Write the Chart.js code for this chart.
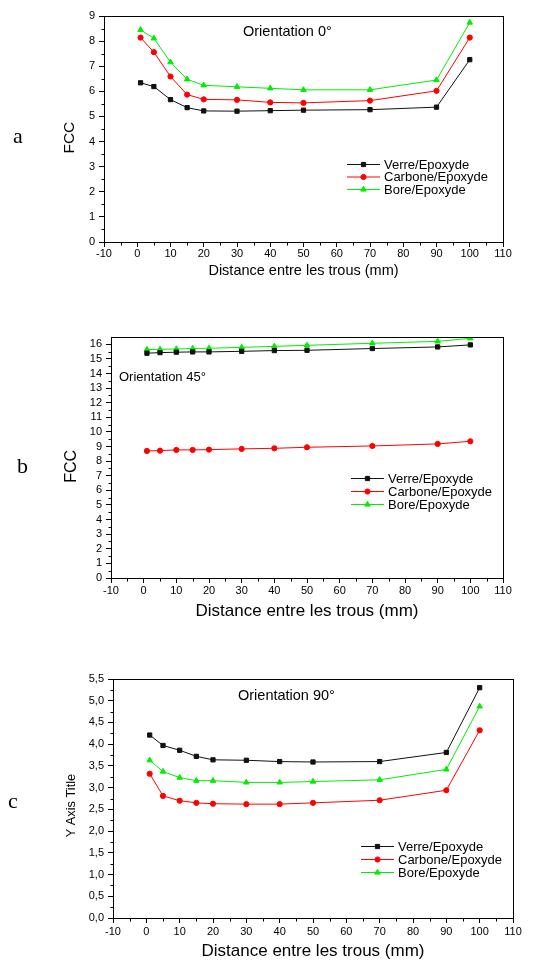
<!DOCTYPE html>
<html>
<head>
<meta charset="utf-8">
<script src="https://cdn.jsdelivr.net/npm/chart.js@4"></script>
<style>
  html, body { margin: 0; padding: 0; background: #fff; }
  body { width: 542px; height: 961px; position: relative; overflow: hidden; }
  .panel { position: absolute; left: 0; width: 542px; }
  .tag { position: absolute; font-family: "Liberation Serif", "Times New Roman", serif; font-size: 22px; line-height: 22px; color: #000; }
</style>
</head>
<body>
<div class="panel" style="top:0;height:285px"><canvas id="chartA"></canvas></div>
<div class="panel" style="top:300px;height:330px"><canvas id="chartB"></canvas></div>
<div class="panel" style="top:640px;height:325px"><canvas id="chartC"></canvas></div>
<div class="tag" style="left:13px;top:125px">a</div>
<div class="tag" style="left:17px;top:455px">b</div>
<div class="tag" style="left:8px;top:790px">c</div>

<script>
// distances between holes (mm)
const distances = [1, 5, 10, 15, 20, 30, 40, 50, 70, 90, 100];
const seriesNames = ["Verre/Epoxyde", "Carbone/Epoxyde", "Bore/Epoxyde"];

// a - orientation 0°
const verre0 = [6.34, 6.19, 5.67, 5.35, 5.22, 5.21, 5.23, 5.25, 5.27, 5.37, 7.26];
const carbone0 = [8.14, 7.56, 6.59, 5.87, 5.68, 5.66, 5.56, 5.54, 5.63, 6.02, 8.14];
const bore0 = [8.45, 8.11, 7.16, 6.48, 6.24, 6.18, 6.12, 6.06, 6.06, 6.45, 8.74];

// b - orientation 45°
const verre45 = [15.39, 15.43, 15.46, 15.48, 15.48, 15.52, 15.57, 15.59, 15.71, 15.82, 15.96];
const carbone45 = [8.70, 8.72, 8.77, 8.77, 8.79, 8.84, 8.88, 8.95, 9.04, 9.18, 9.36];
const bore45 = [15.64, 15.66, 15.68, 15.71, 15.73, 15.79, 15.86, 15.93, 16.07, 16.20, 16.41];

// c - orientation 90°
const verre90 = [4.21, 3.97, 3.86, 3.72, 3.64, 3.63, 3.60, 3.59, 3.60, 3.81, 5.30];
const carbone90 = [3.32, 2.81, 2.70, 2.65, 2.63, 2.62, 2.62, 2.65, 2.71, 2.94, 4.32];
const bore90 = [3.63, 3.37, 3.23, 3.16, 3.16, 3.12, 3.12, 3.14, 3.18, 3.42, 4.87];

// tick values
const xTicks = [-10, 0, 10, 20, 30, 40, 50, 60, 70, 80, 90, 100, 110];
const yTicksA = [0, 1, 2, 3, 4, 5, 6, 7, 8, 9];
const yTicksB = [0, 1, 2, 3, 4, 5, 6, 7, 8, 9, 10, 11, 12, 13, 14, 15, 16];
const yTicksC = [0, 0.5, 1, 1.5, 2, 2.5, 3, 3.5, 4, 4.5, 5, 5.5];

const FONT = '"Liberation Sans", Arial, sans-serif';
Chart.defaults.font.family = FONT;
Chart.defaults.color = "#000";

const styles = [
  { color: "#111111", pointStyle: "rect", radius: 3 },
  { color: "#ff0000", pointStyle: "circle", radius: 2.6 },
  { color: "#00ee00", pointStyle: "triangle", radius: 3.2 },
];

function markPoint(ctx, style, x, y) {
  ctx.fillStyle = style.color;
  ctx.strokeStyle = style.color;
  if (Chart.helpers && Chart.helpers.drawPoint) {
    Chart.helpers.drawPoint(ctx, { pointStyle: style.pointStyle, radius: style.radius, rotation: 0, borderWidth: 1 }, x, y);
  } else {
    ctx.fillRect(x - 2, y - 2, 4, 4);
  }
}

// frame, minor ticks, in-plot legend and orientation label
const framePlugin = {
  id: "frame",
  afterDraw(chart, args, opts) {
    const { ctx, chartArea: a, scales } = chart;
    ctx.save();
    ctx.strokeStyle = "#000";
    ctx.lineWidth = 1;
    const L = Math.round(a.left) + 0.5, R = Math.round(a.right) + 0.5;
    const T = Math.round(a.top) + 0.5, B = Math.round(a.bottom) + 0.5;
    ctx.strokeRect(L, T, R - L, B - T);

    // minor ticks halfway between majors
    ctx.beginPath();
    const mx = opts.xTicks;
    for (let i = 0; i < mx.length - 1; i++) {
      const px = Math.round(scales.x.getPixelForValue((mx[i] + mx[i + 1]) / 2)) + 0.5;
      ctx.moveTo(px, B);
      ctx.lineTo(px, B + 3);
    }
    const my = opts.yTicks;
    for (let i = 0; i < my.length - 1; i++) {
      const py = Math.round(scales.y.getPixelForValue((my[i] + my[i + 1]) / 2)) + 0.5;
      ctx.moveTo(L, py);
      ctx.lineTo(L - 3, py);
    }
    ctx.stroke();

    // orientation label
    ctx.fillStyle = "#000";
    ctx.font = opts.labelSize + "px " + FONT;
    ctx.textBaseline = "middle";
    ctx.textAlign = "left";
    ctx.fillText(opts.label, a.left + opts.labelX, a.top + opts.labelY);

    // legend
    ctx.font = "13px " + FONT;
    chart.data.datasets.forEach((ds, i) => {
      const st = styles[i];
      const x0 = a.left + opts.legX;
      const y = a.top + opts.legY + i * opts.legGap;
      ctx.strokeStyle = st.color;
      ctx.lineWidth = 1;
      ctx.beginPath();
      ctx.moveTo(x0, y + 0.5);
      ctx.lineTo(x0 + 33, y + 0.5);
      ctx.stroke();
      markPoint(ctx, st, x0 + 16.5, y + 0.5);
      ctx.fillStyle = "#000";
      ctx.fillText(ds.label, x0 + 37, y + 1);
    });
    ctx.restore();
  },
};

function makeDatasets(seriesList) {
  return seriesList.map((vals, i) => ({
    label: seriesNames[i],
    data: distances.map((x, j) => ({ x: x, y: vals[j] })),
    borderColor: styles[i].color,
    backgroundColor: styles[i].color,
    pointStyle: styles[i].pointStyle,
    pointRadius: styles[i].radius,
    pointBorderWidth: 1,
    borderWidth: 1,
    tension: 0,
  }));
}

function makeChart(id, seriesList, yTicks, yMax, fmt, g) {
  new Chart(document.getElementById(id), {
    type: "line",
    data: { datasets: makeDatasets(seriesList) },
    options: {
      responsive: true,
      maintainAspectRatio: false,
      animation: false,
      layout: { padding: { top: g.top, right: g.right, bottom: 0, left: 0 } },
      plugins: {
        legend: { display: false },
        tooltip: { enabled: false },
        frame: {
          xTicks: xTicks, yTicks: yTicks,
          label: g.label, labelSize: g.labelSize, labelX: g.labelX, labelY: g.labelY,
          legX: g.legX, legY: g.legY, legGap: g.legGap,
        },
      },
      scales: {
        x: {
          type: "linear",
          min: -10,
          max: 110,
          afterBuildTicks: (s) => { s.ticks = xTicks.map((v) => ({ value: v })); },
          afterFit: (s) => { s.height = g.xHeight; },
          grid: { drawOnChartArea: false, color: "#000", tickLength: 5 },
          border: { color: "#000", width: 1 },
          ticks: { font: { size: 11 }, color: "#000", padding: g.xPad, maxRotation: 0, autoSkip: false },
          title: {
            display: true,
            text: "Distance entre les trous (mm)",
            font: { size: g.xTitleSize },
            color: "#000",
            padding: { top: 0, bottom: g.xTitlePad },
          },
        },
        y: {
          type: "linear",
          min: 0,
          max: yMax,
          afterBuildTicks: (s) => { s.ticks = yTicks.map((v) => ({ value: v })); },
          afterFit: (s) => { s.width = g.yWidth; },
          grid: { drawOnChartArea: false, color: "#000", tickLength: 5 },
          border: { color: "#000", width: 1 },
          ticks: { font: { size: 11 }, color: "#000", padding: 4, autoSkip: false, callback: fmt },
          title: {
            display: true,
            text: g.yTitle,
            font: { size: g.yTitleSize },
            color: "#000",
            padding: { top: g.yTitlePad, bottom: 0 },
          },
        },
      },
    },
    plugins: [framePlugin],
  });
}

const intFmt = (v) => String(v);
const commaFmt = (v) => v.toFixed(1).replace(".", ",");

makeChart("chartA", [verre0, carbone0, bore0], yTicksA, 9, intFmt, {
  top: 16, right: 39, xHeight: 43, yWidth: 104, xPad: 0,
  xTitleSize: 14.5, xTitlePad: 5.3,
  yTitle: "FCC    ", yTitleSize: 15.5, yTitlePad: 60.7,
  label: "Orientation 0°", labelSize: 14.5, labelX: 139, labelY: 16,
  legX: 243, legY: 148, legGap: 12.5,
});

makeChart("chartB", [verre45, carbone45, bore45], yTicksB, 16.5, intFmt, {
  top: 37, right: 39, xHeight: 52, yWidth: 111, xPad: 1,
  xTitleSize: 17, xTitlePad: 8.8,
  yTitle: "FCC    ", yTitleSize: 16, yTitlePad: 62.4,
  label: "Orientation 45°", labelSize: 13, labelX: 8, labelY: 40,
  legX: 240, legY: 141, legGap: 13,
});

makeChart("chartC", [verre90, carbone90, bore90], yTicksC, 5.5, commaFmt, {
  top: 39, right: 29, xHeight: 47, yWidth: 113, xPad: 2,
  xTitleSize: 17, xTitlePad: 3.8,
  yTitle: "Y Axis Title    ", yTitleSize: 12.8, yTitlePad: 63.3,
  label: "Orientation 90°", labelSize: 14.5, labelX: 125, labelY: 17,
  legX: 248, legY: 167, legGap: 13,
});
</script>
</body>
</html>
